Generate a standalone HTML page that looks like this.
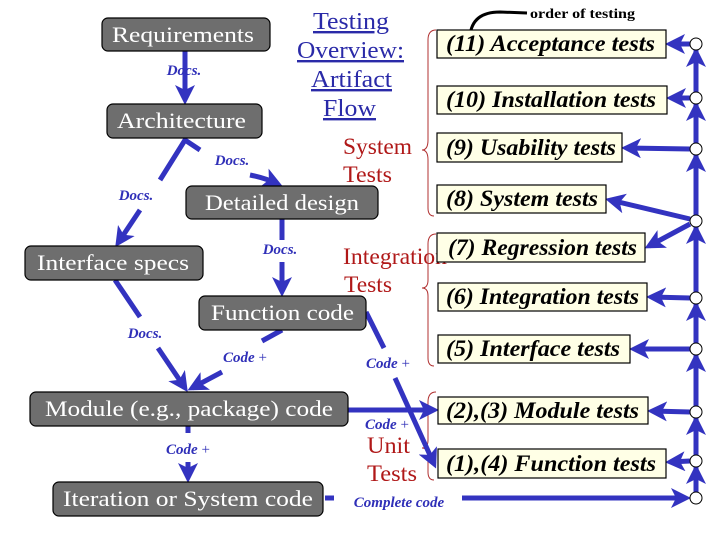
<!DOCTYPE html>
<html><head><meta charset="utf-8"><style>
html,body{margin:0;padding:0;background:#fff;}
svg{display:block;}
.gb{fill:#6e6e6e;stroke:#000;stroke-width:1.2;}
.gt{fill:#fff;font-family:"Liberation Serif",serif;font-size:22px;}
.yb{fill:#ffffe6;stroke:#000;stroke-width:1.2;}
.yt{fill:#000;font-family:"Liberation Serif",serif;font-weight:bold;font-style:italic;font-size:23px;}
.bl{fill:#2f2fb8;font-family:"Liberation Serif",serif;font-weight:bold;font-style:italic;font-size:15px;text-anchor:middle;}
.ln{stroke:#3333c0;stroke-width:5;fill:none;}
.rd{fill:#b01818;font-family:"Liberation Serif",serif;font-size:23px;}
.ti{fill:#2a2aa8;font-family:"Liberation Serif",serif;font-size:24px;text-decoration:underline;}
.br{stroke:#b03030;stroke-width:1;fill:none;}
.c{fill:#fff;stroke:#000;stroke-width:1;}
</style></head><body>
<svg width="720" height="540" viewBox="0 0 720 540" xmlns="http://www.w3.org/2000/svg">
<defs>
<marker id="a" markerWidth="4" markerHeight="4" refX="3" refY="2" orient="auto" markerUnits="strokeWidth"><path d="M0,0 L4,2 L0,4 L1,2 z" fill="#3333c0"/></marker>
</defs>
<text class="ti" x="313" y="29" textLength="76" lengthAdjust="spacingAndGlyphs">Testing</text>
<text class="ti" x="297" y="58" textLength="107" lengthAdjust="spacingAndGlyphs">Overview:</text>
<text class="ti" x="311" y="87" textLength="81" lengthAdjust="spacingAndGlyphs">Artifact</text>
<text class="ti" x="323" y="116" textLength="53" lengthAdjust="spacingAndGlyphs">Flow</text>
<text class="rd" x="343" y="154" textLength="69" lengthAdjust="spacingAndGlyphs">System</text>
<text class="rd" x="343" y="182" textLength="49" lengthAdjust="spacingAndGlyphs">Tests</text>
<text class="rd" x="343" y="264" textLength="104" lengthAdjust="spacingAndGlyphs">Integration</text>
<text class="rd" x="344" y="292" textLength="48" lengthAdjust="spacingAndGlyphs">Tests</text>
<text class="rd" x="367" y="453" textLength="43" lengthAdjust="spacingAndGlyphs">Unit</text>
<text class="rd" x="367" y="481" textLength="50" lengthAdjust="spacingAndGlyphs">Tests</text>
<path class="br" d="M436,30 Q428,30 428,40 L428,140 Q428,150 422,150 Q428,150 428,160 L428,208 Q428,216 434,216"/>
<path class="br" d="M436,234 Q428,234 428,244 L428,280 Q428,288 422,288 Q428,288 428,296 L428,358 Q428,366 434,366"/>
<path class="br" d="M436,392 Q428,392 428,402 L428,440 Q428,448 422,448 Q428,448 428,456 L428,472 Q428,480 434,480"/>
<text x="530" y="18" font-family="Liberation Serif,serif" font-size="14" font-weight="bold" textLength="105" lengthAdjust="spacingAndGlyphs">order of testing</text>
<path d="M527,13 L500,12 Q472,12 470,36" stroke="#000" stroke-width="3" fill="none"/>
<line class="ln" x1="185" y1="51" x2="185" y2="100" marker-end="url(#a)"/>
<polyline class="ln" points="160,180 185,140 200,150"/>
<line class="ln" x1="140" y1="210" x2="118" y2="243" marker-end="url(#a)"/>
<path class="ln" d="M250,175 Q265,178 278,184" marker-end="url(#a)"/>
<line class="ln" x1="282" y1="219" x2="282" y2="240"/>
<line class="ln" x1="282" y1="262" x2="282" y2="292" marker-end="url(#a)"/>
<line class="ln" x1="115" y1="280" x2="140" y2="317"/>
<line class="ln" x1="158" y1="348" x2="185" y2="388" marker-end="url(#a)"/>
<line class="ln" x1="282" y1="330" x2="262" y2="341"/>
<line class="ln" x1="222" y1="372" x2="192" y2="388" marker-end="url(#a)"/>
<line class="ln" x1="188" y1="426" x2="188" y2="433"/>
<line class="ln" x1="188" y1="462" x2="188" y2="478" marker-end="url(#a)"/>
<line class="ln" x1="366" y1="312" x2="384" y2="348"/>
<line class="ln" x1="395" y1="378" x2="434" y2="464" marker-end="url(#a)"/>
<line class="ln" x1="348" y1="410" x2="434" y2="410" marker-end="url(#a)"/>
<line class="ln" x1="325" y1="498" x2="334" y2="498"/>
<line class="ln" x1="462" y1="498" x2="686" y2="498" marker-end="url(#a)"/>
<line class="ln" x1="696" y1="44" x2="696" y2="498"/>
<g>
<line class="ln" x1="696" y1="94" x2="696" y2="52" marker-end="url(#a)"/>
<line class="ln" x1="696" y1="145" x2="696" y2="106" marker-end="url(#a)"/>
<line class="ln" x1="696" y1="216" x2="696" y2="157" marker-end="url(#a)"/>
<line class="ln" x1="696" y1="294" x2="696" y2="229" marker-end="url(#a)"/>
<line class="ln" x1="696" y1="345" x2="696" y2="306" marker-end="url(#a)"/>
<line class="ln" x1="696" y1="408" x2="696" y2="357" marker-end="url(#a)"/>
<line class="ln" x1="696" y1="457" x2="696" y2="420" marker-end="url(#a)"/>
<line class="ln" x1="696" y1="494" x2="696" y2="469" marker-end="url(#a)"/>
</g>
<line class="ln" x1="690" y1="44" x2="670" y2="44" marker-end="url(#a)"/>
<line class="ln" x1="690" y1="98" x2="671" y2="98" marker-end="url(#a)"/>
<line class="ln" x1="690" y1="149" x2="626" y2="148" marker-end="url(#a)"/>
<line class="ln" x1="690" y1="219" x2="610" y2="200" marker-end="url(#a)"/>
<line class="ln" x1="690" y1="224" x2="649" y2="246" marker-end="url(#a)"/>
<line class="ln" x1="690" y1="298" x2="651" y2="297" marker-end="url(#a)"/>
<line class="ln" x1="690" y1="349" x2="634" y2="349" marker-end="url(#a)"/>
<line class="ln" x1="690" y1="412" x2="652" y2="411" marker-end="url(#a)"/>
<line class="ln" x1="690" y1="461" x2="670" y2="462" marker-end="url(#a)"/>
<g>
<circle class="c" cx="696" cy="44" r="6"/><circle class="c" cx="696" cy="98" r="6"/>
<circle class="c" cx="696" cy="149" r="6"/><circle class="c" cx="696" cy="221" r="6"/>
<circle class="c" cx="696" cy="298" r="6"/><circle class="c" cx="696" cy="349" r="6"/>
<circle class="c" cx="696" cy="412" r="6"/><circle class="c" cx="696" cy="461" r="6"/>
<circle class="c" cx="696" cy="498" r="6"/>
</g>
<text class="bl" x="184" y="75">Docs.</text>
<text class="bl" x="232" y="165">Docs.</text>
<text class="bl" x="136" y="200">Docs.</text>
<text class="bl" x="280" y="254">Docs.</text>
<text class="bl" x="145" y="338">Docs.</text>
<text class="bl" x="245" y="362">Code <tspan font-style="normal" font-weight="normal">+</tspan></text>
<text class="bl" x="188" y="454">Code <tspan font-style="normal" font-weight="normal">+</tspan></text>
<text class="bl" x="388" y="368">Code <tspan font-style="normal" font-weight="normal">+</tspan></text>
<text class="bl" x="387" y="429">Code <tspan font-style="normal" font-weight="normal">+</tspan></text>
<text class="bl" x="399" y="507">Complete code</text>
<rect class="gb" x="102" y="18" width="168" height="33" rx="6"/><text class="gt" x="112" y="42" textLength="142" lengthAdjust="spacingAndGlyphs">Requirements</text>
<rect class="gb" x="107" y="104" width="155" height="34" rx="6"/><text class="gt" x="117" y="128" textLength="129" lengthAdjust="spacingAndGlyphs">Architecture</text>
<rect class="gb" x="186" y="186" width="192" height="33" rx="6"/><text class="gt" x="205" y="210" textLength="154" lengthAdjust="spacingAndGlyphs">Detailed design</text>
<rect class="gb" x="25" y="246" width="178" height="34" rx="6"/><text class="gt" x="37" y="270" textLength="152" lengthAdjust="spacingAndGlyphs">Interface specs</text>
<rect class="gb" x="199" y="296" width="167" height="34" rx="6"/><text class="gt" x="211" y="320" textLength="143" lengthAdjust="spacingAndGlyphs">Function code</text>
<rect class="gb" x="30" y="392" width="318" height="34" rx="6"/><text class="gt" x="45" y="416" textLength="288" lengthAdjust="spacingAndGlyphs">Module (e.g., package)  code</text>
<rect class="gb" x="53" y="482" width="270" height="34" rx="6"/><text class="gt" x="63" y="506" textLength="250" lengthAdjust="spacingAndGlyphs">Iteration or System code</text>
<rect class="yb" x="437" y="30" width="229" height="28"/><text class="yt" x="446" y="51" textLength="209" lengthAdjust="spacingAndGlyphs">(11) Acceptance tests</text>
<rect class="yb" x="437" y="86" width="230" height="28"/><text class="yt" x="446" y="107" textLength="210" lengthAdjust="spacingAndGlyphs">(10) Installation tests</text>
<rect class="yb" x="437" y="133" width="185" height="29"/><text class="yt" x="446" y="155" textLength="170" lengthAdjust="spacingAndGlyphs">(9) Usability tests</text>
<rect class="yb" x="437" y="185" width="169" height="28"/><text class="yt" x="446" y="206" textLength="152" lengthAdjust="spacingAndGlyphs">(8) System tests</text>
<rect class="yb" x="437" y="233" width="208" height="29"/><text class="yt" x="448" y="255" textLength="189" lengthAdjust="spacingAndGlyphs">(7) Regression tests</text>
<rect class="yb" x="438" y="283" width="209" height="28"/><text class="yt" x="446" y="304" textLength="193" lengthAdjust="spacingAndGlyphs">(6) Integration tests</text>
<rect class="yb" x="438" y="335" width="192" height="28"/><text class="yt" x="446" y="356" textLength="174" lengthAdjust="spacingAndGlyphs">(5) Interface tests</text>
<rect class="yb" x="438" y="397" width="210" height="27"/><text class="yt" x="446" y="418" textLength="193" lengthAdjust="spacingAndGlyphs">(2),(3) Module tests</text>
<rect class="yb" x="438" y="449" width="228" height="29"/><text class="yt" x="446" y="471" textLength="210" lengthAdjust="spacingAndGlyphs">(1),(4) Function tests</text>
</svg>
</body></html>
